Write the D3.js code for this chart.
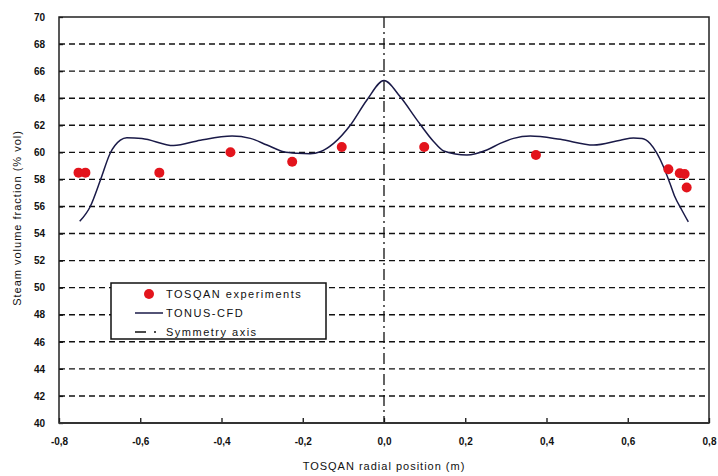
<!DOCTYPE html>
<html>
<head>
<meta charset="utf-8">
<script src="https://cdn.jsdelivr.net/npm/d3@7"></script>
<style>
  body { margin: 0; background: #fff; }
  text { font-family: "Liberation Sans", Arial, sans-serif; fill: #111; }
</style>
</head>
<body>
<div id="plot"></div>
<script>
// chart data
var expX = [-0.752, -0.735, -0.553, -0.378, -0.226, -0.104, 0.099, 0.374, 0.700, 0.728, 0.740, 0.745];
var expY = [58.5, 58.5, 58.5, 60.0, 59.3, 60.4, 60.4, 59.8, 58.75, 58.45, 58.4, 57.4];

var cfdX = [-0.749, -0.723, -0.698, -0.674, -0.649, -0.633, -0.596, -0.518, -0.452, -0.374, -0.329, -0.288, -0.247, -0.214, -0.182, -0.157, -0.124, -0.083, -0.042, 0, 0.04, 0.081, 0.122, 0.147, 0.204, 0.253, 0.286, 0.319, 0.36, 0.434, 0.516, 0.582, 0.614, 0.635, 0.655, 0.672, 0.688, 0.704, 0.716, 0.733, 0.749];
var cfdY = [54.9, 56.0, 57.95, 59.93, 60.9, 61.08, 61.03, 60.5, 60.9, 61.2, 61.03, 60.54, 60.04, 59.93, 59.9, 60.04, 60.66, 62.0, 63.87, 65.3, 64.1, 62.4, 60.8, 60.1, 59.8, 60.17, 60.66, 61.03, 61.2, 60.96, 60.54, 60.9, 61.06, 61.03, 60.66, 59.93, 58.94, 57.7, 56.72, 55.74, 54.87];

var xTicks = [-0.8, -0.6, -0.4, -0.2, 0, 0.2, 0.4, 0.6, 0.8];
var yTicks = [40, 42, 44, 46, 48, 50, 52, 54, 56, 58, 60, 62, 64, 66, 68, 70];
var legendLabels = ['TOSQAN experiments', 'TONUS-CFD', 'Symmetry axis'];

var W = 718, H = 476;
var margin = {t:17, r:9, b:53, l:59};
var width = W - margin.l - margin.r,
    height = H - margin.t - margin.b;

var svg = d3.select('#plot')
  .append('svg')
  .attr('width', W)
  .attr('height', H);

var plot = svg.append('g')
  .attr('transform', 'translate(' + margin.l + ',' + margin.t + ')');

var x = d3.scaleLinear().domain([-0.8, 0.8]).range([0, width]);
var y = d3.scaleLinear().domain([40, 70]).range([height, 0]);

// dashed grid lines
plot.selectAll('.grid')
  .data(yTicks.filter(function(d){ return d > 40 && d < 70; }))
  .enter().append('line')
  .attr('x1', 0).attr('x2', width)
  .attr('y1', function(d){ return y(d); })
  .attr('y2', function(d){ return y(d); })
  .style('stroke', '#111')
  .style('stroke-width', 1.4)
  .style('stroke-dasharray', '6,4');

// symmetry axis
plot.append('line')
  .attr('x1', x(0)).attr('x2', x(0))
  .attr('y1', 0).attr('y2', height)
  .style('stroke', '#111')
  .style('stroke-width', 1.3)
  .style('stroke-dasharray', '11,4,2,4');

// CFD curve
var cfd = cfdX.map(function(d, i){ return [d, cfdY[i]]; });
var line = d3.line()
  .x(function(d){ return x(d[0]); })
  .y(function(d){ return y(d[1]); })
  .curve(d3.curveMonotoneX);

plot.append('path')
  .datum(cfd)
  .attr('d', line)
  .style('fill', 'none')
  .style('stroke', '#1a1a48')
  .style('stroke-width', 1.5);

// experiments
plot.selectAll('.exp')
  .data(expX)
  .enter().append('circle')
  .attr('cx', function(d){ return x(d); })
  .attr('cy', function(d, i){ return y(expY[i]); })
  .attr('r', 5)
  .style('fill', '#e3141c');

// axes
var fmt = function(d){ return d3.format('.1f')(d).replace('.', ',').replace('\u2212', '-'); };

var xAxis = plot.append('g')
  .attr('transform', 'translate(0,' + height + ')')
  .call(d3.axisBottom(x).tickValues(xTicks).tickSize(-5).tickPadding(15).tickFormat(fmt));
var yAxis = plot.append('g')
  .call(d3.axisLeft(y).tickValues(yTicks).tickSize(-4).tickPadding(14).tickFormat(d3.format('d')));

[xAxis, yAxis].forEach(function(a){
  a.select('.domain').remove();
  a.selectAll('line').style('stroke', '#111').style('stroke-width', 1.3);
  a.selectAll('text')
    .style('font-size', '10px')
    .style('font-weight', 'bold')
    .style('font-family', '"Liberation Sans", Arial, sans-serif')
    .style('fill', '#111');
});

// frame
plot.append('rect')
  .attr('x', 0).attr('y', 0)
  .attr('width', width).attr('height', height)
  .style('fill', 'none')
  .style('stroke', '#222')
  .style('stroke-width', 1.5);
plot.append('line')
  .attr('x1', 0).attr('x2', width)
  .attr('y1', height).attr('y2', height)
  .style('stroke', '#333')
  .style('stroke-width', 2.2);

// axis titles
svg.append('text')
  .attr('x', margin.l + width / 2)
  .attr('y', 470)
  .attr('text-anchor', 'middle')
  .style('font-size', '11px')
  .style('letter-spacing', '1px')
  .text('TOSQAN radial position (m)');

svg.append('text')
  .attr('transform', 'translate(21,218) rotate(-90)')
  .attr('text-anchor', 'middle')
  .style('font-size', '11px')
  .style('letter-spacing', '1px')
  .text('Steam volume fraction (% vol)');

// legend
var leg = svg.append('g').attr('transform', 'translate(111,283)');
leg.append('rect')
  .attr('width', 215).attr('height', 56)
  .style('fill', '#fff')
  .style('stroke', '#111')
  .style('stroke-width', 1.5);

leg.append('circle').attr('cx', 38).attr('cy', 11).attr('r', 5).style('fill', '#e3141c');
leg.append('line').attr('x1', 24).attr('x2', 52).attr('y1', 30).attr('y2', 30)
  .style('stroke', '#1a1a48').style('stroke-width', 1.5);
leg.append('line').attr('x1', 24).attr('x2', 52).attr('y1', 49).attr('y2', 49)
  .style('stroke', '#111').style('stroke-width', 1.3)
  .style('stroke-dasharray', '11,8,2,20');

leg.selectAll('.lt')
  .data(legendLabels)
  .enter().append('text')
  .attr('x', 55)
  .attr('y', function(d, i){ return 15 + i * 19; })
  .style('font-size', '11px')
  .style('letter-spacing', '1.5px')
  .text(function(d){ return d; });
</script>
</body>
</html>
